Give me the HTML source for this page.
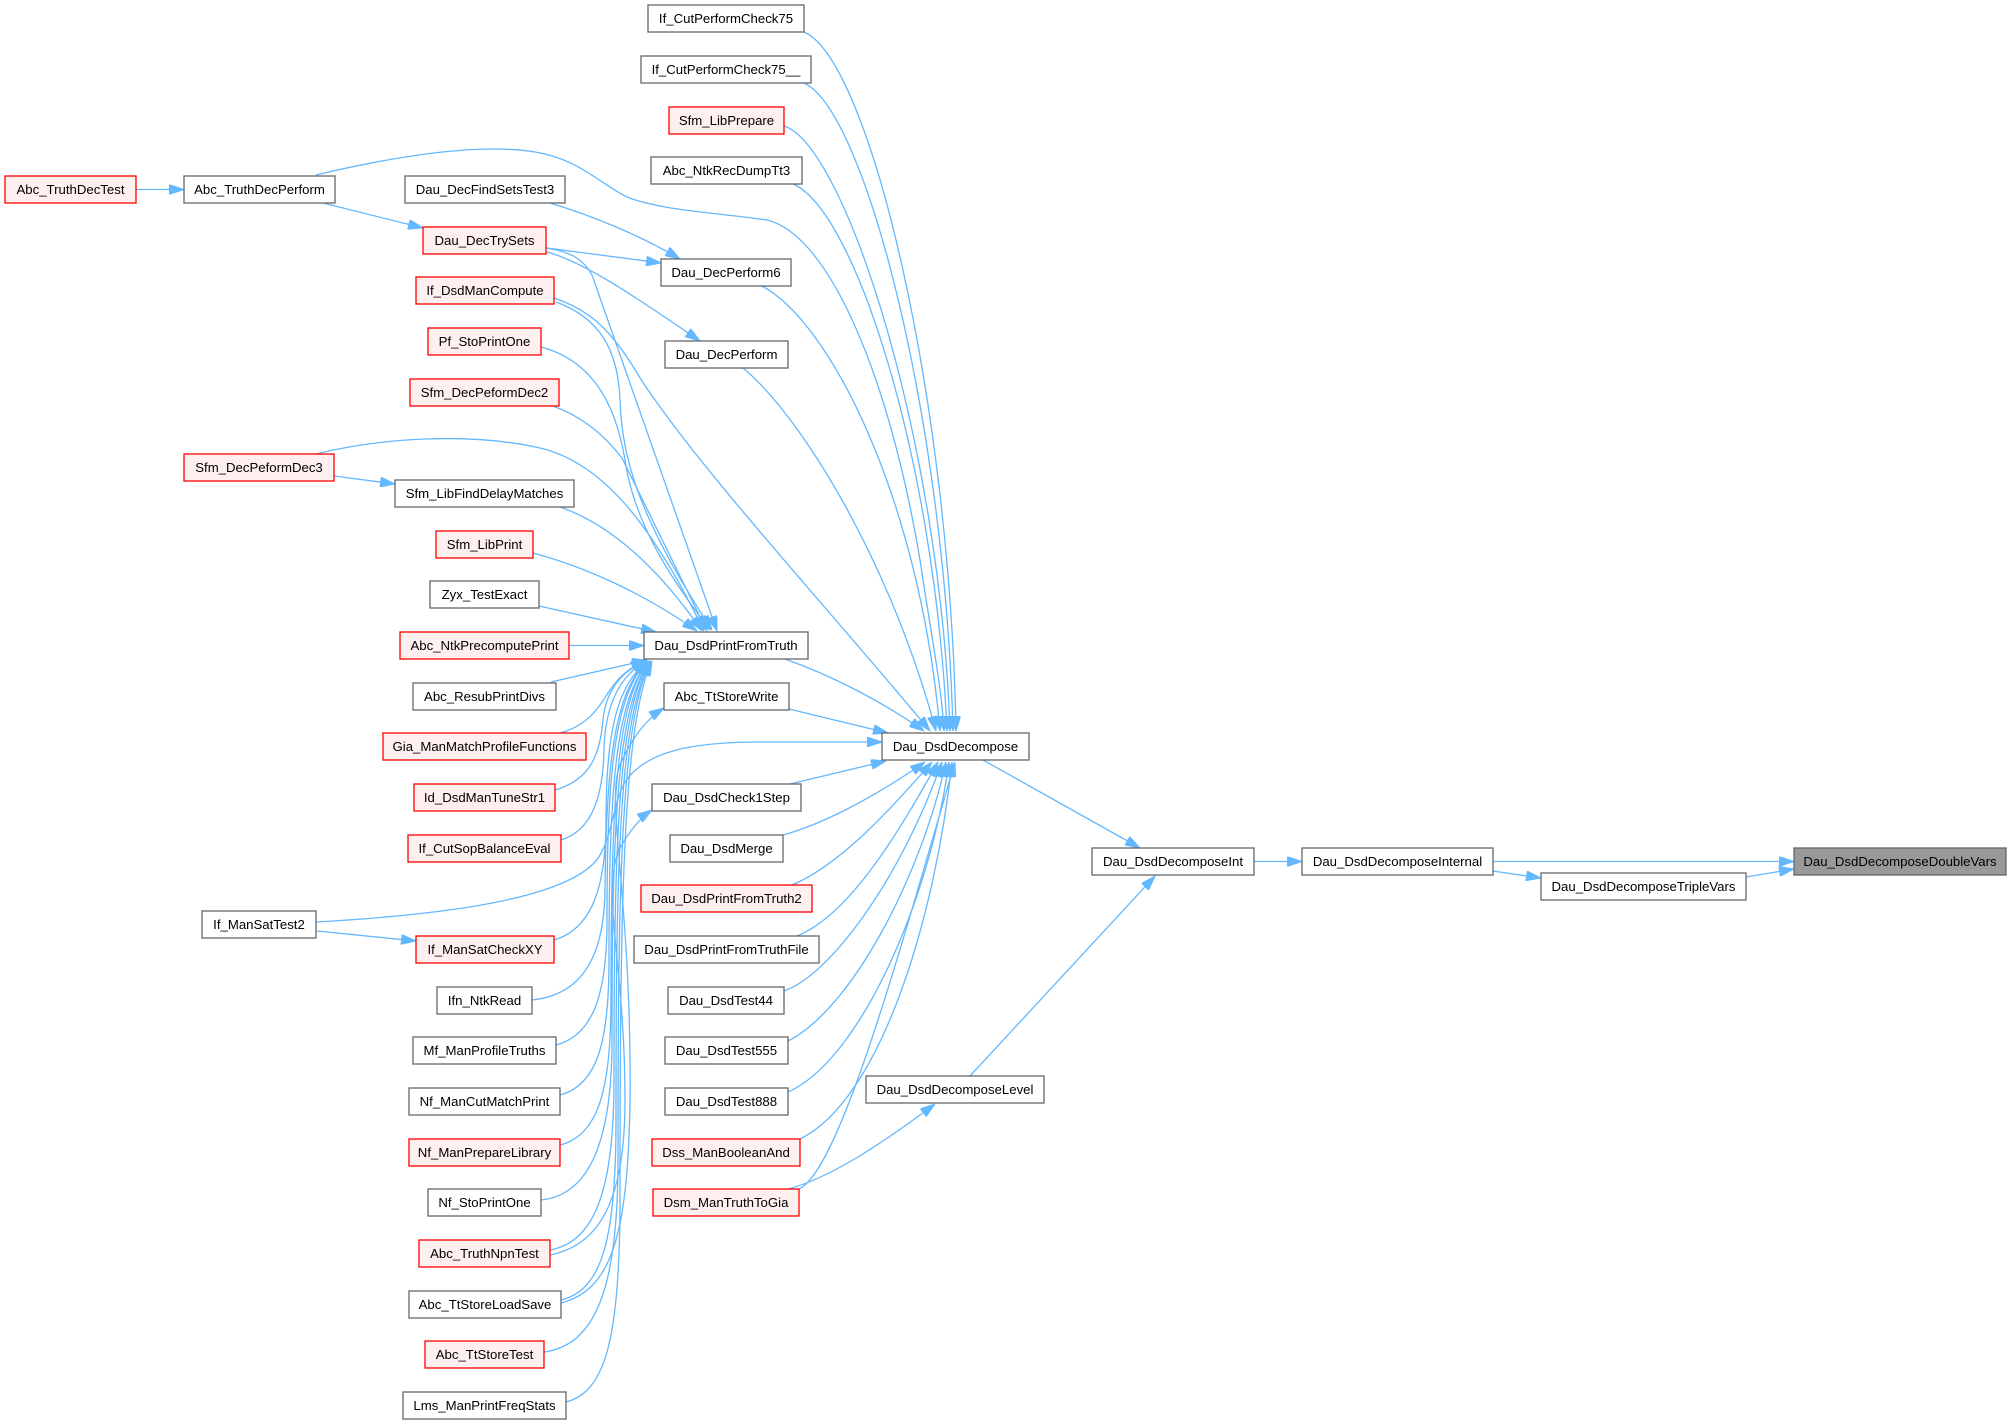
<!DOCTYPE html>
<html><head><meta charset="utf-8"><style>
html,body{margin:0;padding:0;background:#fff;}
body{width:2010px;height:1424px;overflow:hidden;}
svg{display:block;}
text{font-family:"Liberation Sans",Arial,sans-serif;font-size:13.2px;fill:#000;text-anchor:middle;}
.n rect{fill:#fff;stroke:#666;stroke-width:1.3;}
.r rect{fill:#fff0f0;stroke:#ff0000;stroke-width:1.3;}
.g rect{fill:#999;stroke:#666;stroke-width:1.3;}
.e path{fill:none;stroke:#63b8ff;stroke-width:1.3;marker-end:url(#ah);}
</style></head><body>
<svg width="2010" height="1424" viewBox="0 0 2010 1424" xmlns="http://www.w3.org/2000/svg">
<defs>
<marker id="ah" markerUnits="userSpaceOnUse" viewBox="0 0 15 10" refX="15" refY="5" markerWidth="15" markerHeight="10" orient="auto">
<path d="M0,0 L15,5 L0,10 z" fill="#63b8ff" stroke="#63b8ff" stroke-width="1"/>
</marker>
</defs>
<rect width="2010" height="1424" fill="#fff"/>
<g class="e">
<path d="M136,189.5 L184,189.5"/>
<path d="M323,203 L423,228"/>
<path d="M316,175 C400,155 480,143 535,152 C578,159 598,182 625,196 C655,210 720,213 767,220 C830,235 890,380 920,560 C932,640 942,690 944,731"/>
<path d="M550,203 C590,215 640,235 680,259"/>
<path d="M547,248 L661,263"/>
<path d="M547,252 C585,262 640,300 700,341"/>
<path d="M546,248 C572,252 584,260 592,275 L717,631"/>
<path d="M554,298 C590,310 612,330 640,378 C700,470 830,610 930,731"/>
<path d="M556,302 C600,318 618,350 620,400 C622,460 640,520 712,630"/>
<path d="M541,347 C590,360 615,400 625,460 C635,530 680,590 710,630"/>
<path d="M553,406 C580,416 602,432 622,458 L707,631"/>
<path d="M316,454 C380,438 470,432 540,448 C600,462 650,520 704,631"/>
<path d="M334,476 L395,484"/>
<path d="M560,507 C612,525 660,570 702,631"/>
<path d="M533,553 C582,566 642,592 697,631"/>
<path d="M539,606 L656,632"/>
<path d="M569,645.5 L644,645.5"/>
<path d="M551,682 L647,660"/>
<path d="M560,733 C590,725 600,705 610,690 C620,675 632,666 646,661"/>
<path d="M555,790 C590,780 600,755 603,720 C606,690 622,670 647,661"/>
<path d="M561,840 C593,830 603,795 604,750 C605,705 620,675 647,661"/>
<path d="M316,922 C440,915 560,900 595,862 C612,843 612,805 625,782 C645,752 690,742 760,742 L882,742"/>
<path d="M317,931 L416,941"/>
<path d="M554,940 C595,928 606,880 606,820 C606,740 615,685 648,661"/>
<path d="M532,1000 C580,995 604,960 605,890 C606,780 612,690 648,661"/>
<path d="M556,1045 C595,1035 607,990 607,920 C607,790 612,695 648,661"/>
<path d="M560,1095 C598,1085 609,1040 609,960 C609,800 614,700 649,661"/>
<path d="M560,1145 C600,1135 611,1085 611,1000 C611,820 615,700 649,661"/>
<path d="M541,1200 C590,1195 612,1140 612,1040 C612,840 616,705 650,661"/>
<path d="M550,1250 C595,1242 614,1190 614,1080 C614,860 617,710 650,661"/>
<path d="M561,1300 C602,1290 616,1240 616,1120 C616,880 618,715 651,661"/>
<path d="M544,1352 C595,1345 618,1290 618,1160 C618,900 620,720 651,661"/>
<path d="M566,1402 C605,1392 620,1340 620,1200 C620,920 622,725 652,661"/>
<path d="M561,1303 C610,1290 628,1240 630,1100 C632,900 605,800 620,765 C632,738 645,720 664,708"/>
<path d="M550,1255 C600,1245 625,1200 625,1100 C625,960 600,890 620,848 C630,830 640,818 652,810"/>
<path d="M804,32 C870,60 950,400 956,731"/>
<path d="M804,83 C865,110 945,420 953,731"/>
<path d="M784,126 C845,145 940,440 950,731"/>
<path d="M793,184 C855,210 935,460 947,731"/>
<path d="M760,285 C830,320 920,500 940,731"/>
<path d="M743,368 C800,415 890,560 936,731"/>
<path d="M785,659 C830,675 880,700 924,731"/>
<path d="M789,709 L888,733"/>
<path d="M790,784 L886,761"/>
<path d="M783,835 C820,825 870,800 925,762"/>
<path d="M792,885 C840,865 890,810 932,762"/>
<path d="M797,936 C850,915 900,830 938,762"/>
<path d="M784,991 C830,975 900,880 942,762"/>
<path d="M788,1041 C850,1010 920,880 946,762"/>
<path d="M788,1092 C860,1060 930,900 949,762"/>
<path d="M800,1139 C880,1100 935,920 952,762"/>
<path d="M799,1189 C840,1170 900,950 955,762"/>
<path d="M788,1189 C830,1178 880,1145 935,1104"/>
<path d="M983,760 L1140,848"/>
<path d="M970,1076 L1155,876"/>
<path d="M1254,861.5 L1302,861.5"/>
<path d="M1493,861.5 L1794,861.5"/>
<path d="M1493,871 L1541,878"/>
<path d="M1746,877 L1794,869"/>
</g>
<g class="r"><rect x="5" y="176" width="131" height="27"/><text x="70.5" y="194.1">Abc_TruthDecTest</text></g>
<g class="n"><rect x="184" y="176" width="151" height="27"/><text x="259.5" y="194.1">Abc_TruthDecPerform</text></g>
<g class="n"><rect x="405" y="176" width="160" height="27"/><text x="485" y="194.1">Dau_DecFindSetsTest3</text></g>
<g class="r"><rect x="423" y="227" width="123" height="27"/><text x="484.5" y="245.1">Dau_DecTrySets</text></g>
<g class="r"><rect x="416" y="277" width="138" height="27"/><text x="485" y="295.1">If_DsdManCompute</text></g>
<g class="r"><rect x="428" y="328" width="113" height="27"/><text x="484.5" y="346.1">Pf_StoPrintOne</text></g>
<g class="r"><rect x="410" y="379" width="149" height="27"/><text x="484.5" y="397.1">Sfm_DecPeformDec2</text></g>
<g class="r"><rect x="184" y="454" width="150" height="27"/><text x="259" y="472.1">Sfm_DecPeformDec3</text></g>
<g class="n"><rect x="395" y="480" width="179" height="27"/><text x="484.5" y="498.1">Sfm_LibFindDelayMatches</text></g>
<g class="r"><rect x="436" y="531" width="97" height="27"/><text x="484.5" y="549.1">Sfm_LibPrint</text></g>
<g class="n"><rect x="430" y="581" width="109" height="27"/><text x="484.5" y="599.1">Zyx_TestExact</text></g>
<g class="r"><rect x="400" y="632" width="169" height="27"/><text x="484.5" y="650.1">Abc_NtkPrecomputePrint</text></g>
<g class="n"><rect x="413" y="683" width="143" height="27"/><text x="484.5" y="701.1">Abc_ResubPrintDivs</text></g>
<g class="r"><rect x="383" y="733" width="203" height="27"/><text x="484.5" y="751.1">Gia_ManMatchProfileFunctions</text></g>
<g class="r"><rect x="414" y="784" width="141" height="27"/><text x="484.5" y="802.1">Id_DsdManTuneStr1</text></g>
<g class="r"><rect x="408" y="835" width="153" height="27"/><text x="484.5" y="853.1">If_CutSopBalanceEval</text></g>
<g class="n"><rect x="202" y="911" width="114" height="27"/><text x="259" y="929.1">If_ManSatTest2</text></g>
<g class="r"><rect x="416" y="936" width="138" height="27"/><text x="485" y="954.1">If_ManSatCheckXY</text></g>
<g class="n"><rect x="437" y="987" width="95" height="27"/><text x="484.5" y="1005.1">Ifn_NtkRead</text></g>
<g class="n"><rect x="413" y="1037" width="143" height="27"/><text x="484.5" y="1055.1">Mf_ManProfileTruths</text></g>
<g class="n"><rect x="409" y="1088" width="151" height="27"/><text x="484.5" y="1106.1">Nf_ManCutMatchPrint</text></g>
<g class="r"><rect x="409" y="1139" width="151" height="27"/><text x="484.5" y="1157.1">Nf_ManPrepareLibrary</text></g>
<g class="n"><rect x="428" y="1189" width="113" height="27"/><text x="484.5" y="1207.1">Nf_StoPrintOne</text></g>
<g class="r"><rect x="419" y="1240" width="131" height="27"/><text x="484.5" y="1258.1">Abc_TruthNpnTest</text></g>
<g class="n"><rect x="409" y="1291" width="152" height="27"/><text x="485" y="1309.1">Abc_TtStoreLoadSave</text></g>
<g class="r"><rect x="425" y="1341" width="119" height="27"/><text x="484.5" y="1359.1">Abc_TtStoreTest</text></g>
<g class="n"><rect x="403" y="1392" width="163" height="27"/><text x="484.5" y="1410.1">Lms_ManPrintFreqStats</text></g>
<g class="n"><rect x="648" y="5" width="156" height="27"/><text x="726" y="23.1">If_CutPerformCheck75</text></g>
<g class="n"><rect x="641" y="56" width="170" height="27"/><text x="726" y="74.1">If_CutPerformCheck75__</text></g>
<g class="r"><rect x="669" y="107" width="115" height="27"/><text x="726.5" y="125.1">Sfm_LibPrepare</text></g>
<g class="n"><rect x="651" y="157" width="151" height="27"/><text x="726.5" y="175.1">Abc_NtkRecDumpTt3</text></g>
<g class="n"><rect x="661" y="259" width="130" height="27"/><text x="726" y="277.1">Dau_DecPerform6</text></g>
<g class="n"><rect x="665" y="341" width="123" height="27"/><text x="726.5" y="359.1">Dau_DecPerform</text></g>
<g class="n"><rect x="644" y="632" width="164" height="27"/><text x="726" y="650.1">Dau_DsdPrintFromTruth</text></g>
<g class="n"><rect x="664" y="683" width="125" height="27"/><text x="726.5" y="701.1">Abc_TtStoreWrite</text></g>
<g class="n"><rect x="652" y="784" width="149" height="27"/><text x="726.5" y="802.1">Dau_DsdCheck1Step</text></g>
<g class="n"><rect x="670" y="835" width="113" height="27"/><text x="726.5" y="853.1">Dau_DsdMerge</text></g>
<g class="r"><rect x="641" y="885" width="171" height="27"/><text x="726.5" y="903.1">Dau_DsdPrintFromTruth2</text></g>
<g class="n"><rect x="634" y="936" width="185" height="27"/><text x="726.5" y="954.1">Dau_DsdPrintFromTruthFile</text></g>
<g class="n"><rect x="668" y="987" width="116" height="27"/><text x="726" y="1005.1">Dau_DsdTest44</text></g>
<g class="n"><rect x="665" y="1037" width="123" height="27"/><text x="726.5" y="1055.1">Dau_DsdTest555</text></g>
<g class="n"><rect x="665" y="1088" width="123" height="27"/><text x="726.5" y="1106.1">Dau_DsdTest888</text></g>
<g class="r"><rect x="652" y="1139" width="148" height="27"/><text x="726" y="1157.1">Dss_ManBooleanAnd</text></g>
<g class="r"><rect x="653" y="1189" width="146" height="27"/><text x="726" y="1207.1">Dsm_ManTruthToGia</text></g>
<g class="n"><rect x="882" y="733" width="147" height="27"/><text x="955.5" y="751.1">Dau_DsdDecompose</text></g>
<g class="n"><rect x="866" y="1076" width="178" height="27"/><text x="955" y="1094.1">Dau_DsdDecomposeLevel</text></g>
<g class="n"><rect x="1092" y="848" width="162" height="27"/><text x="1173" y="866.1">Dau_DsdDecomposeInt</text></g>
<g class="n"><rect x="1302" y="848" width="191" height="27"/><text x="1397.5" y="866.1">Dau_DsdDecomposeInternal</text></g>
<g class="n"><rect x="1541" y="873" width="205" height="27"/><text x="1643.5" y="891.1">Dau_DsdDecomposeTripleVars</text></g>
<g class="g"><rect x="1794" y="848" width="212" height="27"/><text x="1900" y="866.1">Dau_DsdDecomposeDoubleVars</text></g>
</svg>
</body></html>
